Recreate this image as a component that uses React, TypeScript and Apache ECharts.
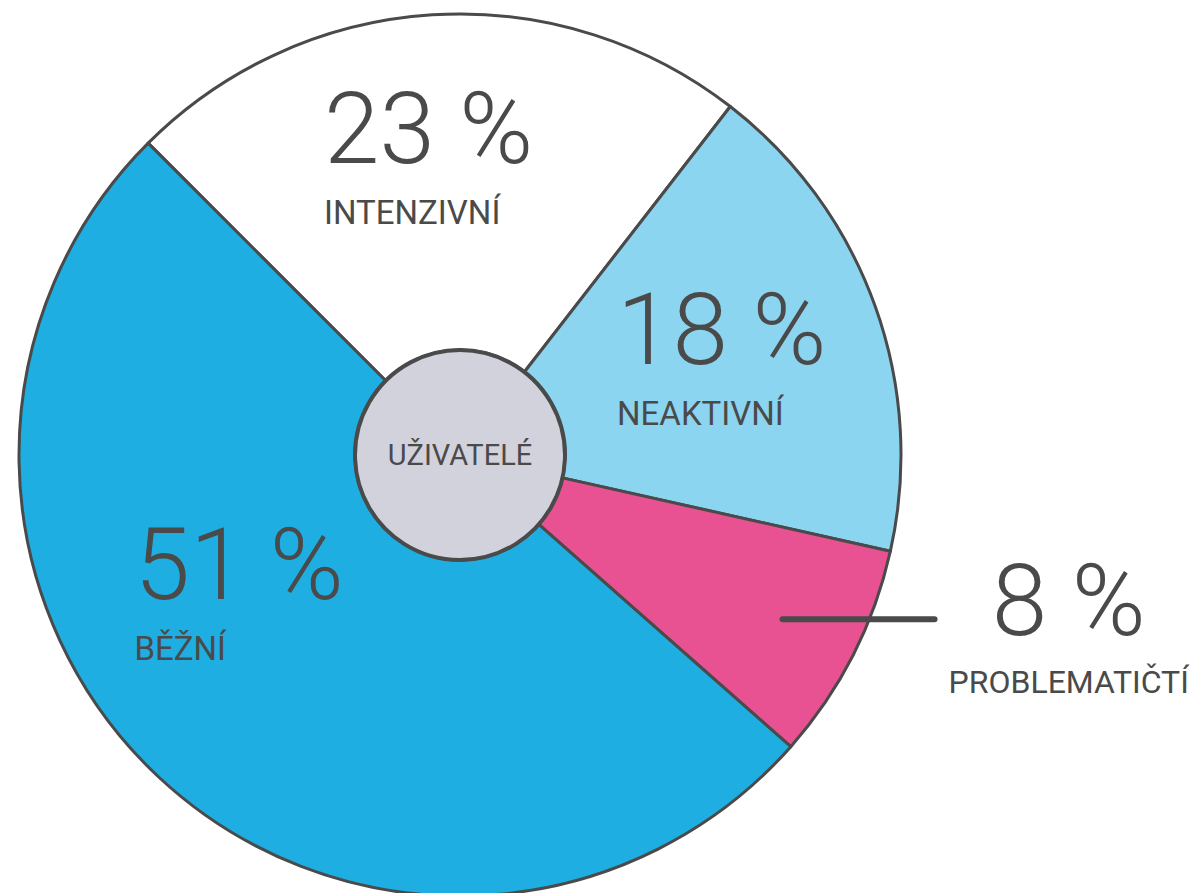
import React, { useEffect, useRef } from 'react';
import * as echarts from 'echarts';

const categories = ['Intenzivní', 'Neaktivní', 'Problematičtí', 'Běžní'];
const shares = [23, 18, 8, 51];
const centerLabel = 'Uživatelé';
const sliceColors = ['#ffffff', '#8cd5f0', '#e85293', '#1eaee2'];

const FONT = "Roboto, 'DejaVu Sans Condensed', 'Open Sans', sans-serif";
const INK = '#4a4a4a';

export default function App() {
  const ref = useRef<HTMLDivElement>(null);
  useEffect(() => {
    document.body.style.margin = '0';
    const chart = echarts.init(ref.current!, null, { renderer: 'svg' });
    const center = [460, 455];
    const rich = {
      v: { fontSize: 100, fontWeight: 300, lineHeight: 100, color: INK, fontFamily: FONT, align: 'left' },
      n: { fontSize: 33, fontWeight: 400, lineHeight: 68, color: INK, fontFamily: FONT, align: 'left' },
    };
    const richOut = {
      v: { fontSize: 100, fontWeight: 300, lineHeight: 100, color: INK, fontFamily: FONT, align: 'center' },
      n: { fontSize: 32, fontWeight: 400, lineHeight: 64, color: INK, fontFamily: FONT, align: 'center' },
    };
    const fmt = (p: any) => `{v|${p.value} %}\n{n|${String(p.name).toUpperCase()}}`;
    const data = categories.map((name, i) => ({
      name,
      value: shares[i],
      itemStyle: { color: sliceColors[i] },
    }));
    chart.setOption({
      animation: false,
      series: [
        {
          type: 'pie',
          z: 2,
          center,
          radius: [105, 441],
          startAngle: 135,
          clockwise: true,
          silent: true,
          itemStyle: { borderColor: INK, borderWidth: 3 },
          label: { show: true, position: 'inside', formatter: fmt, rich },
          labelLine: { show: false },
          labelLayout: (p: any) => {
            if (p.dataIndex === 0) return { dx: -14, dy: -17 };
            if (p.dataIndex === 1) return { dx: 2, dy: 2 };
            if (p.dataIndex === 3) return { dx: -32, dy: -58 };
            return {};
          },
          data: data.map((d, i) => ({ ...d, label: { show: i !== 2 } })),
        },
        {
          type: 'pie',
          z: 5,
          center,
          radius: [105, 362],
          startAngle: 135,
          clockwise: true,
          silent: true,
          avoidLabelOverlap: false,
          itemStyle: { color: 'rgba(0,0,0,0)', borderWidth: 0 },
          label: {
            show: true,
            position: 'outside',
            formatter: fmt,
            rich: richOut,
            distanceToLabelLine: 14,
            overflow: 'none',
            padding: [26, 0, 0, 0],
          },
          labelLine: {
            show: true,
            length: 0,
            length2: 152,
            lineStyle: { color: INK, width: 6, cap: 'round' },
          },
          data: data.map((d, i) => ({
            ...d,
            itemStyle: { color: 'rgba(0,0,0,0)' },
            label: { show: i === 2 },
            labelLine: { show: i === 2 },
          })),
        },
        {
          type: 'pie',
          z: 6,
          center,
          radius: [0, 105],
          silent: true,
          itemStyle: { color: '#d2d2dd', borderColor: INK, borderWidth: 4 },
          label: {
            show: true,
            position: 'center',
            formatter: (p: any) => String(p.name).toUpperCase(),
            fontSize: 29,
            color: INK,
            fontFamily: FONT,
          },
          labelLine: { show: false },
          data: [{ name: centerLabel, value: 1 }],
        },
      ],
    });
    return () => chart.dispose();
  }, []);
  return <div ref={ref} style={{ width: 1200, height: 893 }} />;
}
